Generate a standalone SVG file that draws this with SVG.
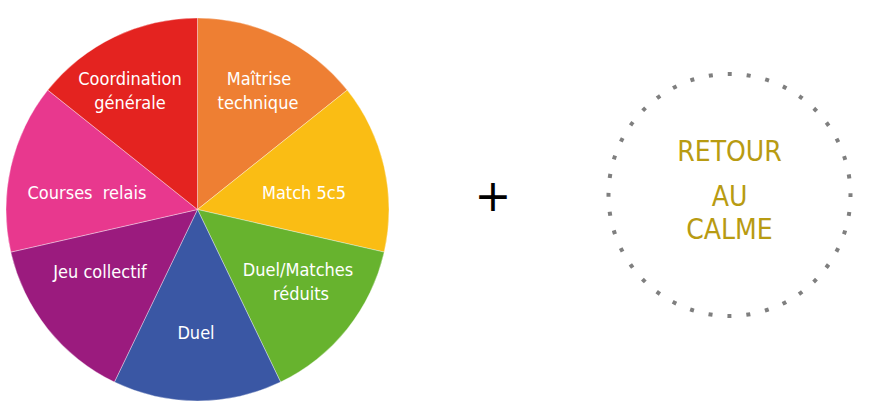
<svg xmlns="http://www.w3.org/2000/svg" width="869" height="411" viewBox="0 0 869 411">
  <style>
    .slice { stroke: #ffffff; stroke-width: 0.6; stroke-opacity: 0.6; }
    .lbl { font-family: "DejaVu Sans", "Liberation Sans", sans-serif; font-stretch: condensed; font-size: 18px; fill: #ffffff; text-anchor: middle; }
    .calm { font-family: "DejaVu Sans", "Liberation Sans", sans-serif; font-stretch: condensed; font-size: 28px; fill: #B89B12; text-anchor: middle; }
    .plus { font-family: "DejaVu Sans", sans-serif; font-size: 44px; fill: #000000; text-anchor: middle; }
  </style>
  <rect width="869" height="411" fill="#ffffff"/>

  <!-- seven equal sectors, centre (197.5,209.5), r 191.5 -->
  <g id="pie">
    <g id="maitrise">
      <path class="slice" fill="#EE7F33" d="M197.5 209.5 L197.5 18 A191.5 191.5 0 0 1 347.22 90.1 Z"/>
      <text class="lbl" x="259" y="85">Maîtrise</text>
      <text class="lbl" x="258" y="109">technique</text>
    </g>
    <g id="match">
      <path class="slice" fill="#FABD14" d="M197.5 209.5 L347.22 90.1 A191.5 191.5 0 0 1 384.2 252.11 Z"/>
      <text class="lbl" x="304" y="199">Match 5c5</text>
    </g>
    <g id="duel-matches">
      <path class="slice" fill="#67B32E" d="M197.5 209.5 L384.2 252.11 A191.5 191.5 0 0 1 280.59 382.04 Z"/>
      <text class="lbl" x="298" y="276">Duel/Matches</text>
      <text class="lbl" x="301" y="300">réduits</text>
    </g>
    <g id="duel">
      <path class="slice" fill="#3A57A4" d="M197.5 209.5 L280.59 382.04 A191.5 191.5 0 0 1 114.41 382.04 Z"/>
      <text class="lbl" x="196" y="339">Duel</text>
    </g>
    <g id="jeu">
      <path class="slice" fill="#9B1B7E" d="M197.5 209.5 L114.41 382.04 A191.5 191.5 0 0 1 10.8 252.11 Z"/>
      <text class="lbl" x="100" y="278">Jeu collectif</text>
    </g>
    <g id="courses">
      <path class="slice" fill="#E8388E" d="M197.5 209.5 L10.8 252.11 A191.5 191.5 0 0 1 47.78 90.1 Z"/>
      <text class="lbl" x="87" y="199" xml:space="preserve">Courses  relais</text>
    </g>
    <g id="coordination">
      <path class="slice" fill="#E42320" d="M197.5 209.5 L47.78 90.1 A191.5 191.5 0 0 1 197.5 18 Z"/>
      <text class="lbl" x="130" y="85">Coordination</text>
      <text class="lbl" x="130" y="109">générale</text>
    </g>
  </g>

  <text class="plus" x="493" y="211">+</text>

  <g id="retour">
    <circle cx="729.5" cy="195" r="121" fill="none" stroke="#7F7F7F" stroke-width="4" stroke-dasharray="4 15.007" stroke-dashoffset="2"/>
    <text class="calm" x="729.5" y="161">RETOUR</text>
    <text class="calm" x="729.5" y="205.5">AU</text>
    <text class="calm" x="729.5" y="239">CALME</text>
  </g>
</svg>
